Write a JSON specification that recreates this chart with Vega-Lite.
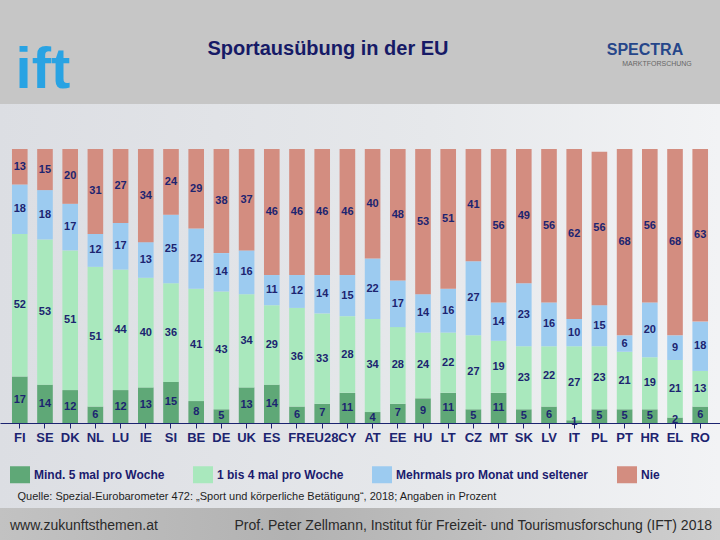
{
  "$schema": "https://vega.github.io/schema/vega-lite/v6.json",
  "width": 720,
  "height": 274,
  "autosize": {"type": "none"},
  "padding": {"left": 0, "right": 0, "top": 149, "bottom": 117},
  "background": "#c6c6c6",
  "config": {"view": {"stroke": null}, "font": "Liberation Sans"},
  "datasets": {
    "d": [
      {"c":"FI","cat":"Mind. 5 mal pro Woche","k":1,"v":17},{"c":"FI","cat":"1 bis 4 mal pro Woche","k":2,"v":52},{"c":"FI","cat":"Mehrmals pro Monat und seltener","k":3,"v":18},{"c":"FI","cat":"Nie","k":4,"v":13},
      {"c":"SE","cat":"Mind. 5 mal pro Woche","k":1,"v":14},{"c":"SE","cat":"1 bis 4 mal pro Woche","k":2,"v":53},{"c":"SE","cat":"Mehrmals pro Monat und seltener","k":3,"v":18},{"c":"SE","cat":"Nie","k":4,"v":15},
      {"c":"DK","cat":"Mind. 5 mal pro Woche","k":1,"v":12},{"c":"DK","cat":"1 bis 4 mal pro Woche","k":2,"v":51},{"c":"DK","cat":"Mehrmals pro Monat und seltener","k":3,"v":17},{"c":"DK","cat":"Nie","k":4,"v":20},
      {"c":"NL","cat":"Mind. 5 mal pro Woche","k":1,"v":6},{"c":"NL","cat":"1 bis 4 mal pro Woche","k":2,"v":51},{"c":"NL","cat":"Mehrmals pro Monat und seltener","k":3,"v":12},{"c":"NL","cat":"Nie","k":4,"v":31},
      {"c":"LU","cat":"Mind. 5 mal pro Woche","k":1,"v":12},{"c":"LU","cat":"1 bis 4 mal pro Woche","k":2,"v":44},{"c":"LU","cat":"Mehrmals pro Monat und seltener","k":3,"v":17},{"c":"LU","cat":"Nie","k":4,"v":27},
      {"c":"IE","cat":"Mind. 5 mal pro Woche","k":1,"v":13},{"c":"IE","cat":"1 bis 4 mal pro Woche","k":2,"v":40},{"c":"IE","cat":"Mehrmals pro Monat und seltener","k":3,"v":13},{"c":"IE","cat":"Nie","k":4,"v":34},
      {"c":"SI","cat":"Mind. 5 mal pro Woche","k":1,"v":15},{"c":"SI","cat":"1 bis 4 mal pro Woche","k":2,"v":36},{"c":"SI","cat":"Mehrmals pro Monat und seltener","k":3,"v":25},{"c":"SI","cat":"Nie","k":4,"v":24},
      {"c":"BE","cat":"Mind. 5 mal pro Woche","k":1,"v":8},{"c":"BE","cat":"1 bis 4 mal pro Woche","k":2,"v":41},{"c":"BE","cat":"Mehrmals pro Monat und seltener","k":3,"v":22},{"c":"BE","cat":"Nie","k":4,"v":29},
      {"c":"DE","cat":"Mind. 5 mal pro Woche","k":1,"v":5},{"c":"DE","cat":"1 bis 4 mal pro Woche","k":2,"v":43},{"c":"DE","cat":"Mehrmals pro Monat und seltener","k":3,"v":14},{"c":"DE","cat":"Nie","k":4,"v":38},
      {"c":"UK","cat":"Mind. 5 mal pro Woche","k":1,"v":13},{"c":"UK","cat":"1 bis 4 mal pro Woche","k":2,"v":34},{"c":"UK","cat":"Mehrmals pro Monat und seltener","k":3,"v":16},{"c":"UK","cat":"Nie","k":4,"v":37},
      {"c":"ES","cat":"Mind. 5 mal pro Woche","k":1,"v":14},{"c":"ES","cat":"1 bis 4 mal pro Woche","k":2,"v":29},{"c":"ES","cat":"Mehrmals pro Monat und seltener","k":3,"v":11},{"c":"ES","cat":"Nie","k":4,"v":46},
      {"c":"FR","cat":"Mind. 5 mal pro Woche","k":1,"v":6},{"c":"FR","cat":"1 bis 4 mal pro Woche","k":2,"v":36},{"c":"FR","cat":"Mehrmals pro Monat und seltener","k":3,"v":12},{"c":"FR","cat":"Nie","k":4,"v":46},
      {"c":"EU28","cat":"Mind. 5 mal pro Woche","k":1,"v":7},{"c":"EU28","cat":"1 bis 4 mal pro Woche","k":2,"v":33},{"c":"EU28","cat":"Mehrmals pro Monat und seltener","k":3,"v":14},{"c":"EU28","cat":"Nie","k":4,"v":46},
      {"c":"CY","cat":"Mind. 5 mal pro Woche","k":1,"v":11},{"c":"CY","cat":"1 bis 4 mal pro Woche","k":2,"v":28},{"c":"CY","cat":"Mehrmals pro Monat und seltener","k":3,"v":15},{"c":"CY","cat":"Nie","k":4,"v":46},
      {"c":"AT","cat":"Mind. 5 mal pro Woche","k":1,"v":4},{"c":"AT","cat":"1 bis 4 mal pro Woche","k":2,"v":34},{"c":"AT","cat":"Mehrmals pro Monat und seltener","k":3,"v":22},{"c":"AT","cat":"Nie","k":4,"v":40},
      {"c":"EE","cat":"Mind. 5 mal pro Woche","k":1,"v":7},{"c":"EE","cat":"1 bis 4 mal pro Woche","k":2,"v":28},{"c":"EE","cat":"Mehrmals pro Monat und seltener","k":3,"v":17},{"c":"EE","cat":"Nie","k":4,"v":48},
      {"c":"HU","cat":"Mind. 5 mal pro Woche","k":1,"v":9},{"c":"HU","cat":"1 bis 4 mal pro Woche","k":2,"v":24},{"c":"HU","cat":"Mehrmals pro Monat und seltener","k":3,"v":14},{"c":"HU","cat":"Nie","k":4,"v":53},
      {"c":"LT","cat":"Mind. 5 mal pro Woche","k":1,"v":11},{"c":"LT","cat":"1 bis 4 mal pro Woche","k":2,"v":22},{"c":"LT","cat":"Mehrmals pro Monat und seltener","k":3,"v":16},{"c":"LT","cat":"Nie","k":4,"v":51},
      {"c":"CZ","cat":"Mind. 5 mal pro Woche","k":1,"v":5},{"c":"CZ","cat":"1 bis 4 mal pro Woche","k":2,"v":27},{"c":"CZ","cat":"Mehrmals pro Monat und seltener","k":3,"v":27},{"c":"CZ","cat":"Nie","k":4,"v":41},
      {"c":"MT","cat":"Mind. 5 mal pro Woche","k":1,"v":11},{"c":"MT","cat":"1 bis 4 mal pro Woche","k":2,"v":19},{"c":"MT","cat":"Mehrmals pro Monat und seltener","k":3,"v":14},{"c":"MT","cat":"Nie","k":4,"v":56},
      {"c":"SK","cat":"Mind. 5 mal pro Woche","k":1,"v":5},{"c":"SK","cat":"1 bis 4 mal pro Woche","k":2,"v":23},{"c":"SK","cat":"Mehrmals pro Monat und seltener","k":3,"v":23},{"c":"SK","cat":"Nie","k":4,"v":49},
      {"c":"LV","cat":"Mind. 5 mal pro Woche","k":1,"v":6},{"c":"LV","cat":"1 bis 4 mal pro Woche","k":2,"v":22},{"c":"LV","cat":"Mehrmals pro Monat und seltener","k":3,"v":16},{"c":"LV","cat":"Nie","k":4,"v":56},
      {"c":"IT","cat":"Mind. 5 mal pro Woche","k":1,"v":1},{"c":"IT","cat":"1 bis 4 mal pro Woche","k":2,"v":27},{"c":"IT","cat":"Mehrmals pro Monat und seltener","k":3,"v":10},{"c":"IT","cat":"Nie","k":4,"v":62},
      {"c":"PL","cat":"Mind. 5 mal pro Woche","k":1,"v":5},{"c":"PL","cat":"1 bis 4 mal pro Woche","k":2,"v":23},{"c":"PL","cat":"Mehrmals pro Monat und seltener","k":3,"v":15},{"c":"PL","cat":"Nie","k":4,"v":56},
      {"c":"PT","cat":"Mind. 5 mal pro Woche","k":1,"v":5},{"c":"PT","cat":"1 bis 4 mal pro Woche","k":2,"v":21},{"c":"PT","cat":"Mehrmals pro Monat und seltener","k":3,"v":6},{"c":"PT","cat":"Nie","k":4,"v":68},
      {"c":"HR","cat":"Mind. 5 mal pro Woche","k":1,"v":5},{"c":"HR","cat":"1 bis 4 mal pro Woche","k":2,"v":19},{"c":"HR","cat":"Mehrmals pro Monat und seltener","k":3,"v":20},{"c":"HR","cat":"Nie","k":4,"v":56},
      {"c":"EL","cat":"Mind. 5 mal pro Woche","k":1,"v":2},{"c":"EL","cat":"1 bis 4 mal pro Woche","k":2,"v":21},{"c":"EL","cat":"Mehrmals pro Monat und seltener","k":3,"v":9},{"c":"EL","cat":"Nie","k":4,"v":68},
      {"c":"RO","cat":"Mind. 5 mal pro Woche","k":1,"v":6},{"c":"RO","cat":"1 bis 4 mal pro Woche","k":2,"v":13},{"c":"RO","cat":"Mehrmals pro Monat und seltener","k":3,"v":18},{"c":"RO","cat":"Nie","k":4,"v":63}
    ]
  },
  "layer": [
    {
      "data": {"values": [{}]},
      "mark": {"type": "rect", "color": {"gradient": "linear", "x1": 0, "x2": 1, "y1": 0, "y2": 0, "stops": [{"offset": 0, "color": "#dcdee3"}, {"offset": 0.6, "color": "#e6e8eb"}, {"offset": 1, "color": "#f2f3f5"}]}},
      "encoding": {"y": {"datum": 116.42, "type": "quantitative"}, "y2": {"datum": -31.02}}
    },
    {
      "data": {"values": [{}]},
      "mark": {"type": "rect", "color": {"gradient": "linear", "x1": 0, "x2": 1, "y1": 0, "y2": 0, "stops": [{"offset": 0, "color": "#c2c2c2"}, {"offset": 0.4, "color": "#b2b2b2"}, {"offset": 1, "color": "#cfcfcf"}]}},
      "encoding": {"y": {"datum": -31.02, "type": "quantitative"}, "y2": {"datum": -46}}
    },
    {
      "data": {"name": "d"},
      "mark": {"type": "bar"},
      "encoding": {
        "x": {
          "field": "c", "type": "nominal", "sort": null,
          "scale": {"domain": ["FI","SE","DK","NL","LU","IE","SI","BE","DE","UK","ES","FR","EU28","CY","AT","EE","HU","LT","CZ","MT","SK","LV","IT","PL","PT","HR","EL","RO"], "paddingInner": 0.38, "paddingOuter": 0.475},
          "axis": {"title": "Quelle: Spezial-Eurobarometer 472: „Sport und körperliche Betätigung“, 2018; Angaben in Prozent", "titleX": 17, "titleY": 76, "titleAlign": "left", "titleBaseline": "alphabetic", "titleFont": "Liberation Sans", "titleFontSize": 11, "titleFontWeight": "normal", "titleColor": "#1e1e1e", "labelAngle": 0, "labelFont": "Liberation Sans", "labelFontWeight": "bold", "labelFontSize": 13, "labelColor": "#1c2470", "domainColor": "#1c2470", "tickColor": "#1c2470", "tickSize": 5, "labelPadding": 3, "zindex": 1}
        },
        "y": {"field": "v", "type": "quantitative", "stack": "zero", "scale": {"domain": [0, 100], "nice": false},
          "axis": {"title": "Häufigkeit der Sportausübung in den Ländern der EU-28:", "titleAngle": 0, "titleX": 10, "titleY": -28, "titleAlign": "left", "titleBaseline": "alphabetic", "titleFont": "Liberation Sans", "titleFontSize": 13, "titleFontWeight": "normal", "titleColor": "#1e1e1e", "labels": false, "ticks": false, "domain": false, "grid": false}},
        "color": {
          "field": "cat", "type": "nominal",
          "scale": {
            "domain": ["Mind. 5 mal pro Woche", "1 bis 4 mal pro Woche", "Mehrmals pro Monat und seltener", "Nie"],
            "range": ["#5fa877", "#a9e8bd", "#9ccbf0", "#d38d80"]
          },
          "legend": {"orient": "none", "legendX": 10, "legendY": 315.5, "direction": "horizontal", "title": null, "symbolType": "M-1,-0.85H1V0.85H-1Z", "symbolSize": 400, "symbolStrokeWidth": 0, "labelFont": "Liberation Sans", "labelFontWeight": "bold", "labelFontSize": 12, "labelColor": "#1b1b6e", "labelLimit": 300, "columnPadding": 28, "labelOffset": 4}
        },
        "order": {"field": "k", "type": "quantitative"}
      }
    },
    {
      "data": {"name": "d"},
      "mark": {"type": "text", "font": "Liberation Sans", "fontSize": 11, "fontWeight": "bold", "color": "#1c2470", "baseline": "middle"},
      "encoding": {
        "x": {"field": "c", "type": "nominal", "sort": null},
        "y": {"field": "v", "type": "quantitative", "stack": "zero", "bandPosition": 0.5},
        "detail": {"field": "cat", "type": "nominal"},
        "order": {"field": "k", "type": "quantitative"},
        "text": {"field": "v", "type": "quantitative"}
      }
    },
    {
      "data": {"name": "d"},
      "transform": [{"filter": "datum.c == 'EU28' && datum.k == 1"}],
      "mark": {"type": "text", "text": "Sportausübung in der EU", "font": "Liberation Sans", "fontSize": 20, "fontWeight": "bold", "color": "#161a66", "align": "center", "baseline": "alphabetic"},
      "encoding": {"x": {"field": "c", "type": "nominal", "sort": null, "bandPosition": 0.872}, "y": {"datum": 134.31, "type": "quantitative"}}
    },
    {
      "data": {"name": "d"},
      "transform": [{"filter": "datum.c == 'SE' && datum.k == 1"}],
      "mark": {"type": "text", "text": "ift", "font": "Liberation Sans", "fontSize": 58, "fontWeight": "bold", "color": "#29a3e3", "align": "center", "baseline": "alphabetic"},
      "encoding": {"x": {"field": "c", "type": "nominal", "sort": null, "bandPosition": 0.373}, "y": {"datum": 122.26, "type": "quantitative"}}
    },
    {
      "data": {"name": "d"},
      "transform": [{"filter": "datum.c == 'HR' && datum.k == 1"}],
      "mark": {"type": "text", "text": "SPECTRA", "font": "Liberation Sans", "fontSize": 16, "fontWeight": "bold", "color": "#26468a", "align": "center", "baseline": "alphabetic"},
      "encoding": {"x": {"field": "c", "type": "nominal", "sort": null, "bandPosition": 0.19}, "y": {"datum": 134.31, "type": "quantitative"}}
    },
    {
      "data": {"name": "d"},
      "transform": [{"filter": "datum.c == 'HR' && datum.k == 1"}],
      "mark": {"type": "text", "text": "MARKTFORSCHUNG", "font": "Liberation Sans", "fontSize": 7, "color": "#666666", "align": "center", "baseline": "alphabetic"},
      "encoding": {"x": {"field": "c", "type": "nominal", "sort": null, "bandPosition": 0.96}, "y": {"datum": 130.29, "type": "quantitative"}}
    },
    {
      "data": {"name": "d"},
      "transform": [{"filter": "datum.c == 'FI' && datum.k == 1"}],
      "mark": {"type": "text", "text": "www.zukunftsthemen.at", "font": "Liberation Sans", "fontSize": 14, "color": "#2a2a2a", "align": "left", "baseline": "alphabetic"},
      "encoding": {"x": {"field": "c", "type": "nominal", "sort": null, "bandPosition": -0.126}, "y": {"datum": -39.05, "type": "quantitative"}}
    },
    {
      "data": {"name": "d"},
      "transform": [{"filter": "datum.c == 'RO' && datum.k == 1"}],
      "mark": {"type": "text", "text": "Prof. Peter Zellmann, Institut für Freizeit- und Tourismusforschung (IFT) 2018", "font": "Liberation Sans", "fontSize": 14, "color": "#2a2a2a", "align": "right", "baseline": "alphabetic"},
      "encoding": {"x": {"field": "c", "type": "nominal", "sort": null, "bandPosition": 1.255}, "y": {"datum": -39.05, "type": "quantitative"}}
    }
  ]
}
